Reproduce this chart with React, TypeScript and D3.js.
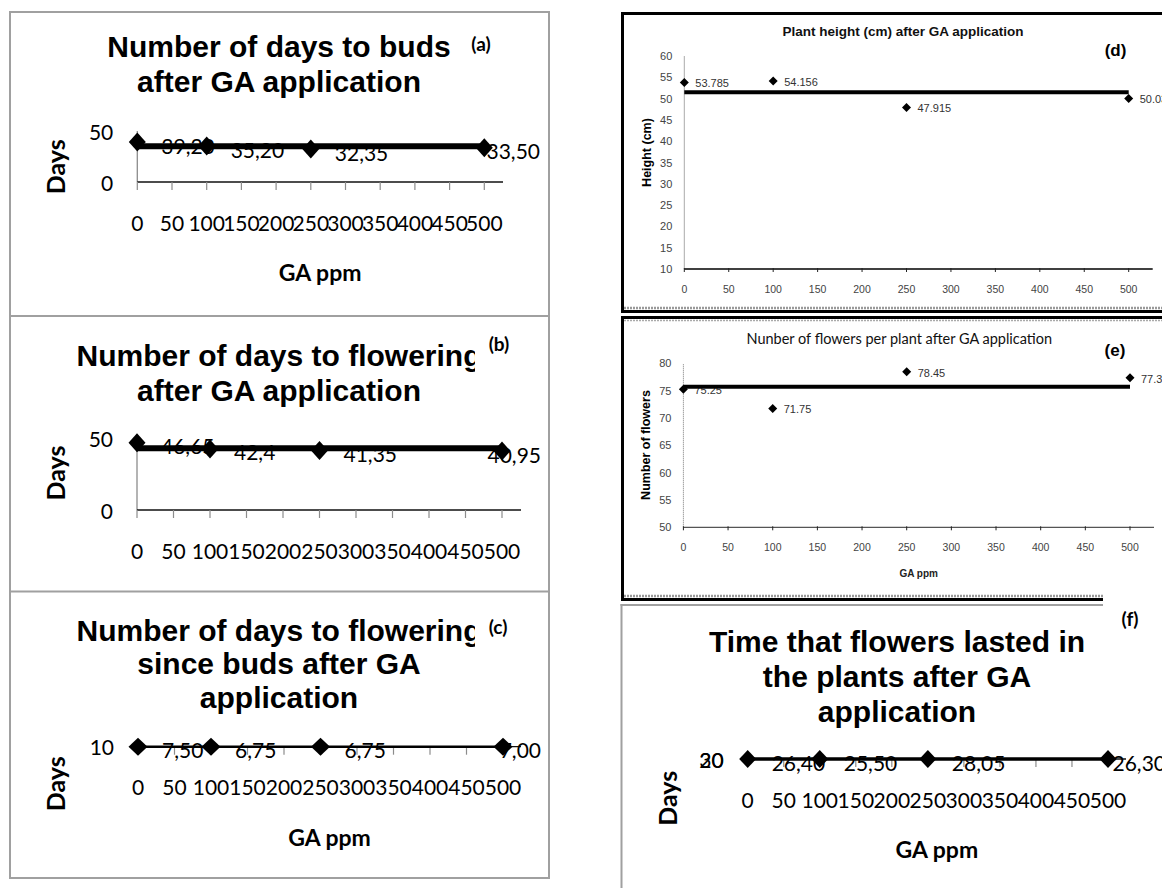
import React, { useEffect, useRef } from 'react';
import * as d3 from 'd3';

// ---------- data ----------
const gaPpm = [0, 100, 250, 500];
const xTickValues = [0, 50, 100, 150, 200, 250, 300, 350, 400, 450, 500];

const daysToBuds = [39.2, 35.2, 32.35, 33.5];
const daysToFlowering = [46.65, 42.4, 41.35, 40.95];
const daysBudsToFlowering = [7.5, 6.75, 6.75, 7.0];
const plantHeight = [53.785, 54.156, 47.915, 50.03];
const flowersPerPlant = [75.25, 71.75, 78.45, 77.35];
const flowerDuration = [26.4, 25.5, 28.05, 26.3];

const yTicksA = [0, 50];
const yTicksB = [0, 50];
const yTicksC = [10];
const yTicksD = [10, 15, 20, 25, 30, 35, 40, 45, 50, 55, 60];
const yTicksE = [50, 55, 60, 65, 70, 75, 80];
const yTicksF = [20, 30];

const LATO = "Lato, 'Open Sans', sans-serif";
const ARIAL = "'Liberation Sans', Arial, sans-serif";

const fmtComma2 = (v: number) => v.toFixed(2).replace('.', ',');
const fmtCommaGen = (v: number) => String(v).replace('.', ',');
const fmtDot = (v: number) => String(v);

function diamondPath(cx: number, cy: number, w: number, h: number) {
  const p = d3.path();
  p.moveTo(cx, cy - h);
  p.lineTo(cx + w, cy);
  p.lineTo(cx, cy + h);
  p.lineTo(cx - w, cy);
  p.closePath();
  return p.toString();
}

type ExcelCfg = {
  id: string;
  values: number[];
  fmt: (v: number) => string;
  yDomain: [number, number];
  yTicks: number[];
  xr: [number, number];
  axisEnd: number;
  yr: [number, number];
  lineW: number;
  mk: [number, number];
  labelRight: number;
  title: string[];
  titleX: number;
  titleY: number[];
  clipTitleAt?: number;
  tag: string;
  tagX: number;
  tagY: number;
  daysX: number;
  daysY: number;
  showGa: boolean;
};

function drawExcel(root: any, c: ExcelCfg) {
  const g = root.append('g');
  const x = d3.scaleLinear().domain([0, 500]).range(c.xr);
  const y = d3.scaleLinear().domain(c.yDomain).range(c.yr);
  const axisY = c.yr[0];

  if (c.clipTitleAt) {
    root
      .append('clipPath')
      .attr('id', 'clip-' + c.id)
      .append('rect')
      .attr('x', 0)
      .attr('y', 0)
      .attr('width', c.clipTitleAt)
      .attr('height', 888);
  }
  c.title.forEach((t, i) => {
    const tx = g
      .append('text')
      .attr('x', c.titleX)
      .attr('y', c.titleY[i])
      .attr('text-anchor', 'middle')
      .attr('dominant-baseline', 'central')
      .attr('font-family', ARIAL)
      .attr('font-weight', 'bold')
      .attr('font-size', 30)
      .attr('fill', '#000')
      .text(t);
    if (i === 0 && c.clipTitleAt) tx.attr('clip-path', `url(#clip-${c.id})`);
  });
  g.append('text')
    .attr('x', c.tagX)
    .attr('y', c.tagY)
    .attr('text-anchor', 'middle')
    .attr('dominant-baseline', 'central')
    .attr('font-family', LATO)
    .attr('font-weight', 'bold')
    .attr('font-size', 19)
    .text(c.tag);

  g.append('line')
    .attr('x1', c.xr[0])
    .attr('x2', c.xr[0])
    .attr('y1', c.yr[0])
    .attr('y2', c.yr[1])
    .attr('stroke', '#8c8c8c')
    .attr('stroke-width', 1.3);
  g.append('line')
    .attr('x1', c.xr[0])
    .attr('x2', c.axisEnd)
    .attr('y1', axisY)
    .attr('y2', axisY)
    .attr('stroke', '#111')
    .attr('stroke-width', 1.3);
  g.selectAll('.xt')
    .data(xTickValues)
    .enter()
    .append('line')
    .attr('x1', (d: number) => x(d))
    .attr('x2', (d: number) => x(d))
    .attr('y1', axisY)
    .attr('y2', axisY + 8)
    .attr('stroke', '#8c8c8c')
    .attr('stroke-width', 1.2);
  g.selectAll('.xl')
    .data(xTickValues)
    .enter()
    .append('text')
    .attr('x', (d: number) => x(d))
    .attr('y', axisY + 40)
    .attr('text-anchor', 'middle')
    .attr('dominant-baseline', 'central')
    .attr('font-family', LATO)
    .attr('font-size', 21)
    .text((d: number) => String(d));
  g.selectAll('.yl')
    .data(c.yTicks)
    .enter()
    .append('text')
    .attr('x', c.xr[0] - 24)
    .attr('y', (d: number) => y(d))
    .attr('text-anchor', 'end')
    .attr('dominant-baseline', 'central')
    .attr('font-family', LATO)
    .attr('font-size', 21)
    .text((d: number) => String(d));

  g.append('text')
    .attr('transform', `translate(${c.daysX},${c.daysY}) rotate(-90)`)
    .attr('text-anchor', 'middle')
    .attr('dominant-baseline', 'central')
    .attr('font-family', LATO)
    .attr('font-weight', 'bold')
    .attr('font-size', 25)
    .text('Days');
  if (c.showGa) {
    g.append('text')
      .attr('x', (c.xr[0] + c.axisEnd) / 2)
      .attr('y', axisY + 90)
      .attr('text-anchor', 'middle')
      .attr('dominant-baseline', 'central')
      .attr('font-family', LATO)
      .attr('font-weight', 'bold')
      .attr('font-size', 23)
      .text('GA ppm');
  }

  c.values.forEach((v, i) => {
    const t = g
      .append('text')
      .attr('x', x(gaPpm[i]) + 24)
      .attr('y', y(v) + 3)
      .attr('dominant-baseline', 'central')
      .attr('font-family', LATO)
      .attr('font-size', 21)
      .attr('fill', '#000')
      .text(c.fmt(v));
    const node = t.node() as SVGTextElement;
    const w = node.getComputedTextLength();
    if (x(gaPpm[i]) + 24 + w > c.labelRight) t.attr('x', c.labelRight - w);
  });

  const m = d3.mean(c.values) as number;
  g.append('line')
    .attr('x1', x(0))
    .attr('x2', x(500))
    .attr('y1', y(m))
    .attr('y2', y(m))
    .attr('stroke', '#000')
    .attr('stroke-width', c.lineW);

  c.values.forEach((v, i) => {
    g.append('path')
      .attr('d', diamondPath(x(gaPpm[i]), y(v), c.mk[0], c.mk[1]))
      .attr('fill', '#000');
  });
}

type SmallCfg = {
  values: number[];
  yDomain: [number, number];
  yTicks: number[];
  xr: [number, number];
  axisEnd: number;
  yr: [number, number];
  title: string;
  titleX: number;
  titleY: number;
  titleFont: string;
  titleSize: number;
  titleWeight: string;
  tag: string;
  tagX: number;
  tagY: number;
  yTitle: string;
  yTitleX: number;
  yTitleY: number;
  showGa: boolean;
  dottedY: boolean;
};

function drawSmall(root: any, c: SmallCfg) {
  const g = root.append('g');
  const x = d3.scaleLinear().domain([0, 500]).range(c.xr);
  const y = d3.scaleLinear().domain(c.yDomain).range(c.yr);
  const axisY = y(c.yDomain[0]);

  g.append('text')
    .attr('x', c.titleX)
    .attr('y', c.titleY)
    .attr('text-anchor', 'middle')
    .attr('dominant-baseline', 'central')
    .attr('font-family', c.titleFont)
    .attr('font-weight', c.titleWeight)
    .attr('font-size', c.titleSize)
    .attr('fill', '#111')
    .text(c.title);
  g.append('text')
    .attr('x', c.tagX)
    .attr('y', c.tagY)
    .attr('text-anchor', 'middle')
    .attr('dominant-baseline', 'central')
    .attr('font-family', ARIAL)
    .attr('font-weight', 'bold')
    .attr('font-size', 17)
    .text(c.tag);

  g.append('line')
    .attr('x1', c.xr[0])
    .attr('x2', c.xr[0])
    .attr('y1', c.yr[0])
    .attr('y2', c.yr[1])
    .attr('stroke', c.dottedY ? '#777' : '#aaa')
    .attr('stroke-width', 1)
    .attr('stroke-dasharray', c.dottedY ? '1 1' : null);
  g.append('line')
    .attr('x1', c.xr[0])
    .attr('x2', c.axisEnd)
    .attr('y1', axisY)
    .attr('y2', axisY)
    .attr('stroke', c.dottedY ? '#555' : '#000')
    .attr('stroke-width', 1.3);
  g.selectAll('.xt')
    .data(xTickValues)
    .enter()
    .append('line')
    .attr('x1', (d: number) => x(d))
    .attr('x2', (d: number) => x(d))
    .attr('y1', axisY - 1)
    .attr('y2', axisY + 3)
    .attr('stroke', '#222')
    .attr('stroke-width', 1);
  g.selectAll('.xl')
    .data(xTickValues)
    .enter()
    .append('text')
    .attr('x', (d: number) => x(d))
    .attr('y', axisY + 20)
    .attr('text-anchor', 'middle')
    .attr('dominant-baseline', 'central')
    .attr('font-family', ARIAL)
    .attr('font-size', 10.5)
    .attr('fill', '#444')
    .text((d: number) => String(d));
  g.selectAll('.yl')
    .data(c.yTicks)
    .enter()
    .append('text')
    .attr('x', c.xr[0] - 12)
    .attr('y', (d: number) => y(d))
    .attr('text-anchor', 'end')
    .attr('dominant-baseline', 'central')
    .attr('font-family', ARIAL)
    .attr('font-size', 11)
    .attr('fill', '#444')
    .text((d: number) => String(d));

  g.append('text')
    .attr('transform', `translate(${c.yTitleX},${c.yTitleY}) rotate(-90)`)
    .attr('text-anchor', 'middle')
    .attr('dominant-baseline', 'central')
    .attr('font-family', ARIAL)
    .attr('font-weight', 'bold')
    .attr('font-size', 12.5)
    .text(c.yTitle);
  if (c.showGa) {
    g.append('text')
      .attr('x', (c.xr[0] + c.axisEnd) / 2)
      .attr('y', axisY + 46)
      .attr('text-anchor', 'middle')
      .attr('dominant-baseline', 'central')
      .attr('font-family', ARIAL)
      .attr('font-weight', 'bold')
      .attr('font-size', 10)
      .attr('fill', '#222')
      .text('GA ppm');
  }

  c.values.forEach((v, i) => {
    g.append('text')
      .attr('x', x(gaPpm[i]) + 11)
      .attr('y', y(v) + 1)
      .attr('dominant-baseline', 'central')
      .attr('font-family', ARIAL)
      .attr('font-size', 11)
      .attr('fill', '#333')
      .text(fmtDot(v));
  });

  const m = d3.mean(c.values) as number;
  g.append('line')
    .attr('x1', x(0))
    .attr('x2', x(500))
    .attr('y1', y(m))
    .attr('y2', y(m))
    .attr('stroke', '#000')
    .attr('stroke-width', 4);

  c.values.forEach((v, i) => {
    g.append('path')
      .attr('d', diamondPath(x(gaPpm[i]), y(v), 4.5, 4.5))
      .attr('fill', '#000');
  });
}

function hline(root: any, x1: number, x2: number, yy: number, color: string, w: number, dash?: string) {
  root
    .append('line')
    .attr('x1', x1)
    .attr('x2', x2)
    .attr('y1', yy)
    .attr('y2', yy)
    .attr('stroke', color)
    .attr('stroke-width', w)
    .attr('stroke-dasharray', dash || null);
}
function vline(root: any, xx: number, y1: number, y2: number, color: string, w: number) {
  root
    .append('line')
    .attr('x1', xx)
    .attr('x2', xx)
    .attr('y1', y1)
    .attr('y2', y2)
    .attr('stroke', color)
    .attr('stroke-width', w);
}

export default function App() {
  const ref = useRef<SVGSVGElement>(null);
  useEffect(() => {
    const svg = d3.select(ref.current);
    svg.selectAll('*').remove();
    svg.append('rect').attr('width', 1162).attr('height', 888).attr('fill', '#fff');

    const gray = '#a0a0a0';
    svg.append('rect').attr('x', 10).attr('y', 12).attr('width', 539).attr('height', 866)
      .attr('fill', 'none').attr('stroke', gray).attr('stroke-width', 2);
    hline(svg, 10, 549, 316, gray, 2);
    hline(svg, 10, 549, 591.5, gray, 2);

    // (d) frame
    hline(svg, 621, 1162, 13.5, '#000', 3);
    vline(svg, 622.5, 12, 312.5, '#000', 3);
    hline(svg, 624, 1162, 308, '#999', 2.5, '2 1');
    hline(svg, 621, 1162, 311.5, '#000', 3);
    // (e) frame
    hline(svg, 621, 1162, 317.5, '#000', 3);
    hline(svg, 624, 1162, 320.5, '#aaa', 1.5, '2 1');
    vline(svg, 622.5, 316, 601, '#000', 3);
    hline(svg, 624, 1103, 596, '#999', 2.5, '2 1');
    hline(svg, 621, 1103, 599.5, '#000', 3);
    // (f) frame
    hline(svg, 620.5, 1103, 605, gray, 2);
    vline(svg, 621.5, 604, 888, gray, 2);

    drawExcel(svg, {
      id: 'a', values: daysToBuds, fmt: fmtComma2, yDomain: [0, 50], yTicks: yTicksA,
      xr: [137.3, 484.3], axisEnd: 503, yr: [182, 131], lineW: 6, mk: [8.5, 9.5], labelRight: 540,
      title: ['Number of days to buds', 'after GA application'], titleX: 279, titleY: [46.7, 81.7],
      tag: '(a)', tagX: 481, tagY: 43, daysX: 55, daysY: 166.7, showGa: true,
    });
    drawExcel(svg, {
      id: 'b', values: daysToFlowering, fmt: fmtCommaGen, yDomain: [0, 50], yTicks: yTicksB,
      xr: [137, 502], axisEnd: 521, yr: [510, 438], lineW: 6, mk: [8.5, 9.5], labelRight: 541,
      title: ['Number of days to flowering', 'after GA application'], titleX: 279, titleY: [355, 390],
      clipTitleAt: 475, tag: '(b)', tagX: 499, tagY: 343, daysX: 55, daysY: 473, showGa: false,
    });
    drawExcel(svg, {
      id: 'c', values: daysBudsToFlowering, fmt: fmtComma2, yDomain: [0, 10], yTicks: yTicksC,
      xr: [138, 503], axisEnd: 521, yr: [746.7, 746.7], lineW: 2.5, mk: [9.5, 9], labelRight: 541,
      title: ['Number of days to flowering', 'since buds after GA', 'application'], titleX: 279,
      titleY: [630, 663.5, 697], clipTitleAt: 475, tag: '(c)', tagX: 498, tagY: 626,
      daysX: 55, daysY: 783.7, showGa: true,
    });
    drawExcel(svg, {
      id: 'f', values: flowerDuration, fmt: fmtComma2, yDomain: [20, 30], yTicks: yTicksF,
      xr: [747.7, 1108], axisEnd: 1126, yr: [759, 759], lineW: 3.5, mk: [8.5, 9], labelRight: 1166,
      title: ['Time that flowers lasted in', 'the plants after GA', 'application'], titleX: 897,
      titleY: [641.7, 676.7, 711.7], tag: '(f)', tagX: 1130, tagY: 618,
      daysX: 666.6, daysY: 798.3, showGa: true,
    });

    drawSmall(svg, {
      values: plantHeight, yDomain: [10, 60], yTicks: yTicksD,
      xr: [684.3, 1128.7], axisEnd: 1152.7, yr: [269, 56],
      title: 'Plant height  (cm) after GA application', titleX: 903, titleY: 31.7,
      titleFont: ARIAL, titleSize: 13.5, titleWeight: 'bold',
      tag: '(d)', tagX: 1115.5, tagY: 50,
      yTitle: 'Height  (cm)', yTitleX: 646.6, yTitleY: 152.5, showGa: false, dottedY: false,
    });
    drawSmall(svg, {
      values: flowersPerPlant, yDomain: [50, 80], yTicks: yTicksE,
      xr: [683.4, 1130], axisEnd: 1154, yr: [527.3, 363.3],
      title: 'Nunber of flowers per plant after GA application', titleX: 899.3, titleY: 338.3,
      titleFont: LATO, titleSize: 14.5, titleWeight: 'normal',
      tag: '(e)', tagX: 1115, tagY: 350,
      yTitle: 'Number of flowers', yTitleX: 645.5, yTitleY: 445, showGa: true, dottedY: true,
    });
  }, []);
  return (
    <svg
      ref={ref}
      width={1162}
      height={888}
      style={{ position: 'absolute', left: 0, top: 0, display: 'block' }}
    />
  );
}
